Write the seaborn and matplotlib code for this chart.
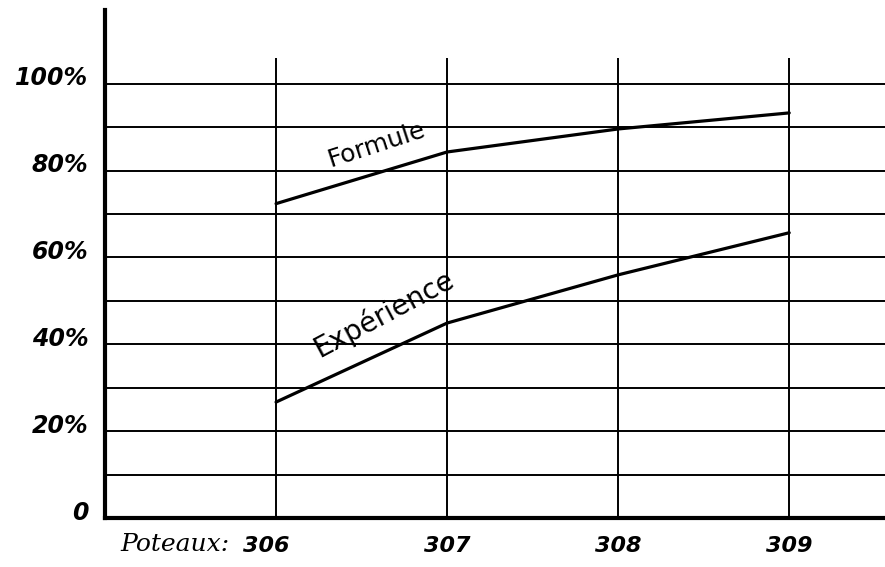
#!/usr/bin/env python3
# -*- coding: utf-8 -*-

"""
Poteaux 306-309 : Formule vs Expérience
"""

import matplotlib
matplotlib.use('Agg')
import matplotlib.pyplot as plt
from matplotlib.transforms import ScaledTranslation
import pandas as pd
import seaborn as sns

# données
poteaux = [306, 307, 308, 309]
formule = [72.4, 84.3, 89.6, 93.3]
experience = [26.7, 44.9, 56.0, 65.7]

y_ticks = list(range(0, 101, 10))
y_labels = ['0', '', '20%', '', '40%', '', '60%', '', '80%', '', '100%']

df = pd.DataFrame({
    'poteau': poteaux * 2,
    'valeur': formule + experience,
    'serie': ['Formule'] * 4 + ['Expérience'] * 4,
})

sns.set_style('white')
plt.rcParams['font.family'] = ['DejaVu Sans']
plt.rcParams['text.color'] = 'black'
plt.rcParams['xtick.color'] = 'black'
plt.rcParams['ytick.color'] = 'black'

fig = plt.figure(figsize=(8.85, 5.67), dpi=100)
ax = fig.add_axes([105 / 885, 49 / 567, 1 - 105 / 885, (518 - 10) / 567])

sns.lineplot(data=df, x='poteau', y='valeur', units='serie', estimator=None,
             color='black', linewidth=2.3, legend=False, ax=ax)

# quadrillage
for y in y_ticks[1:]:
    ax.axhline(y, color='black', linewidth=1.4, zorder=0)
ax.vlines(poteaux, 0, 106, color='black', linewidth=1.4, zorder=0)

ax.set_xlim(305, 309.56)
ax.set_ylim(0, 117)

ax.set_xticks(poteaux)
ax.set_xticklabels([str(p) for p in poteaux], fontsize=16,
                   fontweight='bold', fontstyle='italic')
ax.set_yticks(y_ticks)
ax.set_yticklabels(y_labels, fontsize=17, fontweight='bold', fontstyle='italic')
ax.tick_params(axis='y', length=5, width=1.2, pad=7, labelcolor='black')
ax.tick_params(axis='x', length=4, width=1.2, pad=9, labelcolor='black')

# les étiquettes de l'axe y sont un peu au-dessus des lignes
for lab in ax.get_yticklabels():
    lab.set_transform(lab.get_transform() + ScaledTranslation(0, 0.08, fig.dpi_scale_trans))
# "306" un peu à gauche de sa ligne
ax.get_xticklabels()[0].set_transform(
    ax.get_xticklabels()[0].get_transform() + ScaledTranslation(-0.1, 0, fig.dpi_scale_trans))

ax.set_xlabel('')
ax.set_ylabel('')

for side in ['top', 'right']:
    ax.spines[side].set_visible(False)
ax.spines['left'].set_linewidth(3)
ax.spines['bottom'].set_linewidth(3)
ax.spines['left'].set_color('black')
ax.spines['bottom'].set_color('black')

ax.text(305.73, -6.2, 'Poteaux:', ha='right', va='center', fontsize=18,
        fontstyle='italic', fontfamily='DejaVu Serif', color='black', clip_on=False)

# noms des courbes
ax.text(306.59, 86.0, 'Formule', ha='center', va='center', fontsize=18,
        rotation=18, rotation_mode='anchor', color='black')
ax.text(306.63, 47.0, 'Expérience', ha='center', va='center', fontsize=20,
        rotation=28, rotation_mode='anchor', color='black')

fig.savefig('out.png', dpi=100)
